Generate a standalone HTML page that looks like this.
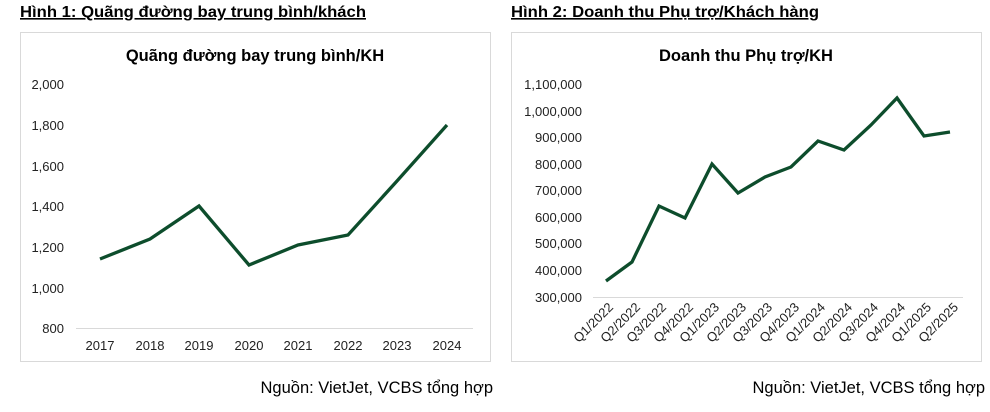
<!DOCTYPE html>
<html><head><meta charset="utf-8"><style>
body{margin:0;background:#fff;width:990px;height:407px;overflow:hidden;font-family:"Liberation Sans",Arial,sans-serif}
</style></head><body>
<svg width="990" height="407" xmlns="http://www.w3.org/2000/svg" font-family="Liberation Sans, Arial, sans-serif">
<text x="20" y="17" font-size="16" font-weight="bold" text-decoration="underline" textLength="346" lengthAdjust="spacingAndGlyphs">Hình 1: Quãng đường bay trung bình/khách</text>
<text x="511" y="17" font-size="16" font-weight="bold" text-decoration="underline" textLength="308" lengthAdjust="spacingAndGlyphs">Hình 2: Doanh thu Phụ trợ/Khách hàng</text>

<rect x="20.5" y="32.5" width="470" height="329" fill="#fff" stroke="#d9d9d9"/>
<text x="255" y="61" font-size="16.5" font-weight="bold" text-anchor="middle">Quãng đường bay trung bình/KH</text>
<g font-size="13" text-anchor="end" fill="#222">
<text x="64" y="89">2,000</text><text x="64" y="130">1,800</text><text x="64" y="171">1,600</text><text x="64" y="211">1,400</text><text x="64" y="252">1,200</text><text x="64" y="293">1,000</text><text x="64" y="333">800</text>
</g>
<line x1="76" y1="328.5" x2="473" y2="328.5" stroke="#d9d9d9"/>
<g font-size="13" text-anchor="middle" fill="#222">
<text x="100" y="350">2017</text><text x="150" y="350">2018</text><text x="199" y="350">2019</text><text x="249" y="350">2020</text><text x="298" y="350">2021</text><text x="348" y="350">2022</text><text x="397" y="350">2023</text><text x="447" y="350">2024</text>
</g>
<polyline fill="none" stroke="#0d4d2c" stroke-width="3.3" points="100,259 150,239 199,206 249,265 298,245 348,235 397,181 447,125"/>
<text x="493" y="393" font-size="16.5" text-anchor="end">Nguồn: VietJet, VCBS tổng hợp</text>

<rect x="511.5" y="32.5" width="470" height="329" fill="#fff" stroke="#d9d9d9"/>
<text x="746" y="61" font-size="16.5" font-weight="bold" text-anchor="middle">Doanh thu Phụ trợ/KH</text>
<g font-size="13" text-anchor="end" fill="#222">
<text x="582" y="89">1,100,000</text><text x="582" y="116">1,000,000</text><text x="582" y="142">900,000</text><text x="582" y="169">800,000</text><text x="582" y="195">700,000</text><text x="582" y="222">600,000</text><text x="582" y="248">500,000</text><text x="582" y="275">400,000</text><text x="582" y="302">300,000</text>
</g>
<line x1="593" y1="297.5" x2="963" y2="297.5" stroke="#d9d9d9"/>
<g font-size="13" text-anchor="end" fill="#222">
<text transform="translate(614,308) rotate(-45)">Q1/2022</text>
<text transform="translate(641,308) rotate(-45)">Q2/2022</text>
<text transform="translate(667,308) rotate(-45)">Q3/2022</text>
<text transform="translate(694,308) rotate(-45)">Q4/2022</text>
<text transform="translate(720,308) rotate(-45)">Q1/2023</text>
<text transform="translate(747,308) rotate(-45)">Q2/2023</text>
<text transform="translate(773,308) rotate(-45)">Q3/2023</text>
<text transform="translate(800,308) rotate(-45)">Q4/2023</text>
<text transform="translate(826,308) rotate(-45)">Q1/2024</text>
<text transform="translate(853,308) rotate(-45)">Q2/2024</text>
<text transform="translate(879,308) rotate(-45)">Q3/2024</text>
<text transform="translate(906,308) rotate(-45)">Q4/2024</text>
<text transform="translate(932,308) rotate(-45)">Q1/2025</text>
<text transform="translate(959,308) rotate(-45)">Q2/2025</text>
</g>
<polyline fill="none" stroke="#0d4d2c" stroke-width="3.3" points="606,281 632,262 659,206 685,218 712,164 738,193 765,177 791,167 818,141 844,150 871,125 897,98 924,136 950,132"/>
<text x="985" y="393" font-size="16.5" text-anchor="end">Nguồn: VietJet, VCBS tổng hợp</text>
</svg>
</body></html>
